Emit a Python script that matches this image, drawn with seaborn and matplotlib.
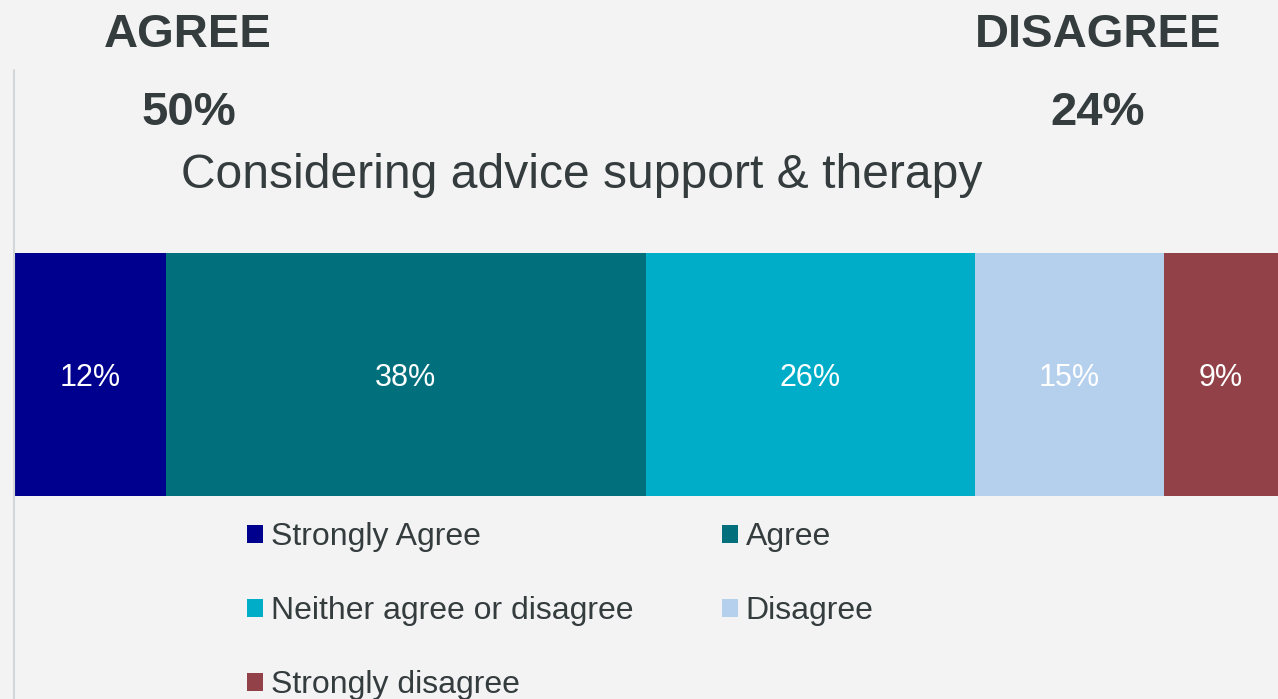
import matplotlib
matplotlib.use("Agg")
import matplotlib.pyplot as plt
import seaborn as sns
import pandas as pd
import numpy as np
from matplotlib.patches import Patch
from matplotlib.lines import Line2D

# ---- data ----
categories = ["Strongly Agree", "Agree", "Neither agree or disagree", "Disagree", "Strongly disagree"]
values = [12, 38, 26, 15, 9]
colors = ["#00008e", "#02707c", "#00adc8", "#b5d0ec", "#914147"]
question = "Considering advice support & therapy"
agree_label, agree_value = "AGREE", "50%"
disagree_label, disagree_value = "DISAGREE", "24%"

sns.set_theme(style="white")
plt.rcParams['font.family'] = ['Liberation Sans', 'DejaVu Sans']

text_col = "#343c3e"
bg = "#f3f3f3"

fig = plt.figure(figsize=(12.78, 6.99), dpi=100, facecolor=bg)
W, H = 1278, 699
ax = fig.add_axes([14 / W, (H - 496) / H, 1264 / W, 243 / H])
ax.set_facecolor("none")

cum = np.cumsum(values)
lefts = cum - np.array(values)
for i in reversed(range(len(values))):
    df = pd.DataFrame({"q": [question], "v": [cum[i]]})
    sns.barplot(data=df, x="v", y="q", orient="h", color=colors[i],
                saturation=1, width=1, ax=ax, linewidth=0)

ax.set_xlim(0, 100)
ax.set_ylim(0.5, -0.5)
ax.axis("off")

for l, v in zip(lefts, values):
    ax.text(l + v / 2, 0.015, f"{v}%", ha="center", va="center", color="white", fontsize=22)

# headings
fig.text(188 / W, 1 - 35 / H, agree_label, ha="center", va="center", fontsize=34,
         fontweight="bold", color=text_col)
fig.text(189 / W, 1 - 113 / H, agree_value, ha="center", va="center", fontsize=34,
         fontweight="bold", color=text_col)
fig.text(1098 / W, 1 - 35 / H, disagree_label, ha="center", va="center", fontsize=34,
         fontweight="bold", color=text_col)
fig.text(1098 / W, 1 - 113 / H, disagree_value, ha="center", va="center", fontsize=34,
         fontweight="bold", color=text_col)
fig.text(582 / W, 1 - 176 / H, question, ha="center", va="center", fontsize=34.6,
         color=text_col)

# left vertical rule
fig.add_artist(Line2D([14 / W, 14 / W], [0, 1 - 70 / H], transform=fig.transFigure,
                      color="#d3d7d9", lw=1.5))

# legend (row-wise order in 2 columns)
handles = [Patch(facecolor=c, edgecolor="none", label=lab) for c, lab in zip(colors, categories)]
order = [0, 2, 4, 1, 3]
leg = fig.legend([handles[i] for i in order], [categories[i] for i in order],
                 ncol=2, loc="upper left", bbox_to_anchor=(247 / W, 1 - 522 / H),
                 frameon=False, fontsize=23, handlelength=0.5, handleheight=0.5,
                 handletextpad=0.25, labelspacing=1.38, columnspacing=2.76,
                 borderpad=0, borderaxespad=0)
for t in leg.get_texts():
    t.set_color(text_col)

fig.savefig("out.png", dpi=100, facecolor=bg)
